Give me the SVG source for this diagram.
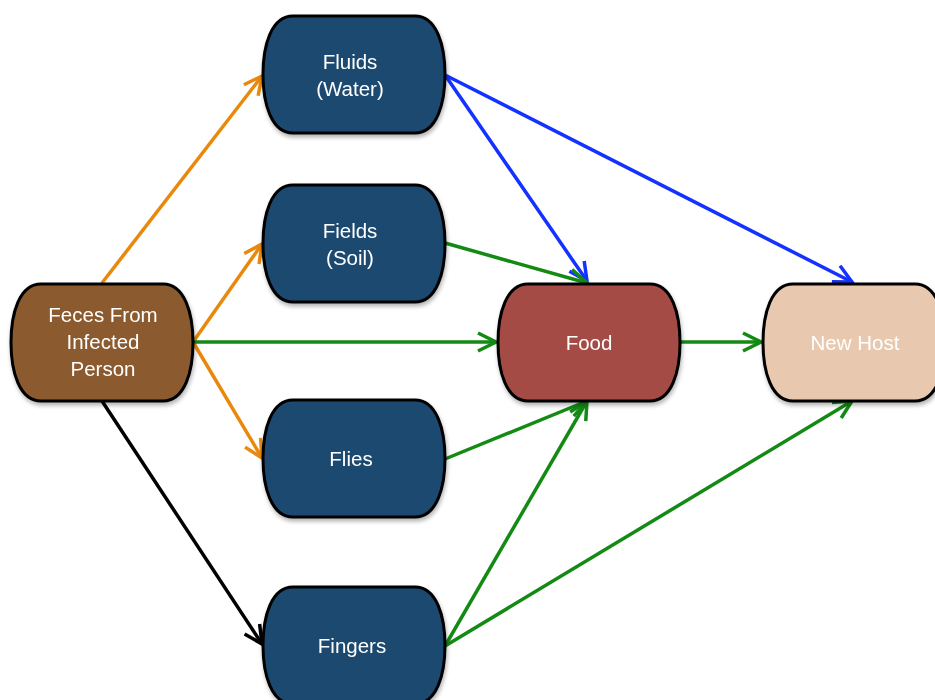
<svg xmlns="http://www.w3.org/2000/svg" width="935" height="700" viewBox="0 0 935 700">
<style>
.box{stroke:#000;stroke-width:3}
.lbl{font-family:"Liberation Sans",Arial,sans-serif;font-size:20.5px;fill:#fff;text-anchor:middle}
.c{fill:none;stroke-width:3.5}
</style>
<defs>
<marker id="mo" viewBox="0 0 24 24" refX="21" refY="12" markerWidth="24" markerHeight="24" markerUnits="userSpaceOnUse" orient="auto"><path d="M3,3 L21,12 L3,21" fill="none" stroke="#E8890C" stroke-width="3.5"/></marker>
<marker id="mg" viewBox="0 0 24 24" refX="21" refY="12" markerWidth="24" markerHeight="24" markerUnits="userSpaceOnUse" orient="auto"><path d="M3,3 L21,12 L3,21" fill="none" stroke="#138A13" stroke-width="3.5"/></marker>
<marker id="mb" viewBox="0 0 24 24" refX="21" refY="12" markerWidth="24" markerHeight="24" markerUnits="userSpaceOnUse" orient="auto"><path d="M3,3 L21,12 L3,21" fill="none" stroke="#1432FF" stroke-width="3.5"/></marker>
<marker id="mk" viewBox="0 0 24 24" refX="21" refY="12" markerWidth="24" markerHeight="24" markerUnits="userSpaceOnUse" orient="auto"><path d="M3,3 L21,12 L3,21" fill="none" stroke="#000" stroke-width="3.5"/></marker>
<filter id="sh" x="-10%" y="-10%" width="125%" height="130%"><feGaussianBlur in="SourceAlpha" stdDeviation="2"/><feOffset dx="1" dy="3"/><feComponentTransfer><feFuncA type="linear" slope="0.3"/></feComponentTransfer><feMerge><feMergeNode/><feMergeNode in="SourceGraphic"/></feMerge></filter>
<path id="shape" d="M30,0 H152 C174,0 182,30 182,58.5 C182,87 174,117 152,117 H30 C8,117 0,87 0,58.5 C0,30 8,0 30,0 Z"/>
</defs>
<g id="connectors">
<line class="c" stroke="#E8890C" x1="102" y1="283" x2="262" y2="76" marker-end="url(#mo)"/>
<line class="c" stroke="#E8890C" x1="193" y1="342" x2="262" y2="244" marker-end="url(#mo)"/>
<line class="c" stroke="#E8890C" x1="193" y1="342" x2="262" y2="458" marker-end="url(#mo)"/>
<line class="c" stroke="#138A13" x1="193" y1="342" x2="496" y2="342" marker-end="url(#mg)"/>
<line class="c" stroke="#000" x1="102" y1="401" x2="262" y2="644" marker-end="url(#mk)"/>
<line class="c" stroke="#1432FF" x1="445" y1="75" x2="587" y2="281" marker-end="url(#mb)"/>
<line class="c" stroke="#1432FF" x1="445" y1="75" x2="852" y2="282" marker-end="url(#mb)"/>
<line class="c" stroke="#138A13" x1="445" y1="243" x2="587" y2="283" marker-end="url(#mg)"/>
<line class="c" stroke="#138A13" x1="680" y1="342" x2="761" y2="342" marker-end="url(#mg)"/>
<line class="c" stroke="#138A13" x1="445" y1="459" x2="587" y2="401" marker-end="url(#mg)"/>
<line class="c" stroke="#138A13" x1="445" y1="646" x2="587" y2="401" marker-end="url(#mg)"/>
<line class="c" stroke="#138A13" x1="445" y1="646" x2="852" y2="401" marker-end="url(#mg)"/>
</g>
<g id="fluids" filter="url(#sh)"><use href="#shape" class="box" fill="#1F4A70" transform="translate(263,16)"/><text class="lbl" x="350" y="69">Fluids</text><text class="lbl" x="350" y="96">(Water)</text></g>
<g id="fields" filter="url(#sh)"><use href="#shape" class="box" fill="#1F4A70" transform="translate(263,185)"/><text class="lbl" x="350" y="238">Fields</text><text class="lbl" x="350" y="265">(Soil)</text></g>
<g id="feces" filter="url(#sh)"><use href="#shape" class="box" fill="#8B5A2F" transform="translate(11,284)"/><text class="lbl" x="103" y="322">Feces From</text><text class="lbl" x="103" y="349">Infected</text><text class="lbl" x="103" y="376">Person</text></g>
<g id="food" filter="url(#sh)"><use href="#shape" class="box" fill="#A54B45" transform="translate(498,284)"/><text class="lbl" x="589" y="350">Food</text></g>
<g id="newhost" filter="url(#sh)"><use href="#shape" class="box" fill="#E8C9B0" transform="translate(763,284)"/><text class="lbl" x="855" y="350">New Host</text></g>
<g id="flies" filter="url(#sh)"><use href="#shape" class="box" fill="#1F4A70" transform="translate(263,400)"/><text class="lbl" x="351" y="466">Flies</text></g>
<g id="fingers" filter="url(#sh)"><use href="#shape" class="box" fill="#1F4A70" transform="translate(263,587)"/><text class="lbl" x="352" y="653">Fingers</text></g>
</svg>
